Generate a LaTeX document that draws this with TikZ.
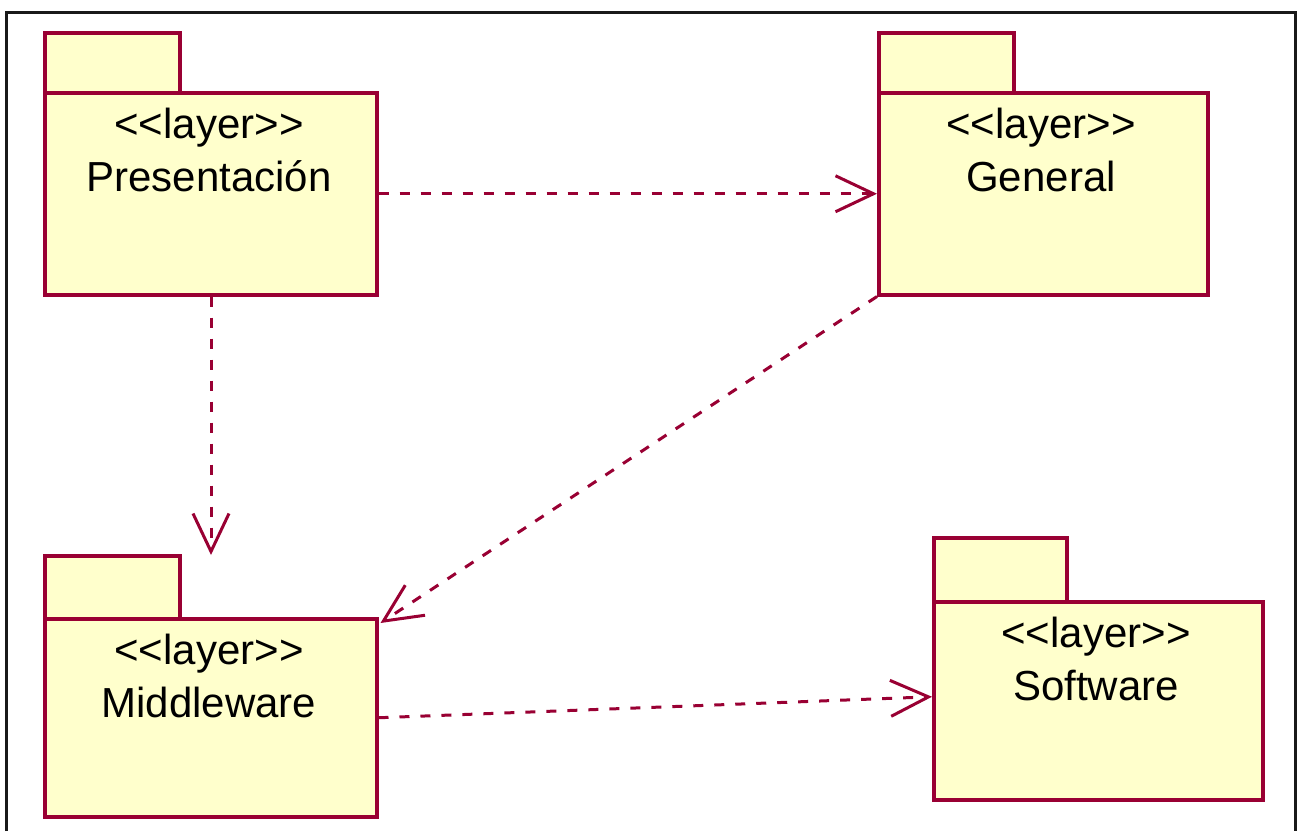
\documentclass[tikz,border=0pt]{standalone}
\usepackage{fontspec}
\setmainfont{Liberation Sans}
\usetikzlibrary{arrows.meta}
\definecolor{pkgline}{HTML}{990033}
\definecolor{pkgfill}{HTML}{FFFFCC}
\newcommand{\stereo}{<{}<layer>{}>}
\begin{document}
\begin{tikzpicture}[x=1pt,y=-1pt,
  pkgtab/.style={draw=pkgline,fill=pkgfill,line width=3.5pt,anchor=north west,inner sep=0pt,minimum width=135pt,minimum height=60pt},
  pkgbody/.style={draw=pkgline,fill=pkgfill,line width=3.5pt,anchor=north west,inner sep=0pt,minimum height=202pt},
  lbl/.style={anchor=base,inner sep=0pt,font=\fontsize{42}{48}\selectfont},
  dep/.style={draw=pkgline,line width=3pt,dash pattern=on 10pt off 11pt,
    -{Straight Barb[length=38pt,width=36pt,line width=3pt]}}
]
\useasboundingbox (0,0) rectangle (1302,831);
% frame
\draw[line width=3pt,black!90] (6,831) -- (6,12) -- (1295,12) -- (1295,831);

% Presentacion
\node[pkgtab] (presTab) at (43,31) {};
\node[pkgbody,minimum width=332pt] (pres) at (43,91) {};
\node[lbl] (presSt) at (209,138) {\stereo};
\node[lbl] (presNm) at (209,191) {Presentación};

% General
\node[pkgtab] (genTab) at (877,31) {};
\node[pkgbody,minimum width=329pt] (gen) at (877,91) {};
\node[lbl] (genSt) at (1041,138) {\stereo};
\node[lbl] (genNm) at (1041,191) {General};

% Middleware
\node[pkgtab,minimum height=63pt] (midTab) at (43,554) {};
\node[pkgbody,minimum width=332pt,minimum height=198pt] (mid) at (43,617) {};
\node[lbl] (midSt) at (209,664) {\stereo};
\node[lbl] (midNm) at (209,717) {Middleware};

% Software
\node[pkgtab,minimum width=133pt,minimum height=64pt] (softTab) at (932,536) {};
\node[pkgbody,minimum width=329pt,minimum height=198pt] (soft) at (932,600) {};
\node[lbl] (softSt) at (1096,647) {\stereo};
\node[lbl] (softNm) at (1096,700) {Software};

% dependencies
\coordinate (midTop) at (211,555);
\draw[dep] (pres.east) -- (gen.west);
\draw[dep] (pres.south -| midTop) -- (midTop);
\draw[dep] (gen.south west) -- ([xshift=2pt,yshift=-6pt]mid.north east);
\draw[dep] (mid.east) -- ([yshift=4pt]soft.west);
\end{tikzpicture}
\end{document}
